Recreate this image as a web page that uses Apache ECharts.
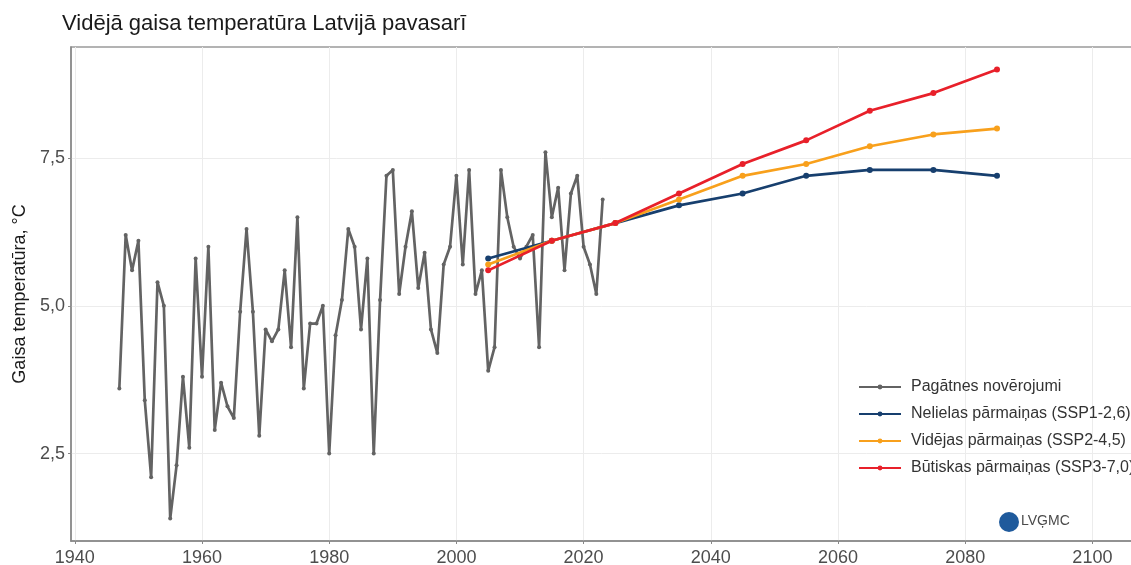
<!DOCTYPE html>
<html>
<head>
<meta charset="utf-8">
<script src="https://cdn.jsdelivr.net/npm/echarts@6/dist/echarts.min.js"></script>
<style>
  html, body { margin: 0; padding: 0; background: #fff; }
  #chart { width: 1131px; height: 565px; }
</style>
</head>
<body>
<div id="chart"></div>
<script>
// novērojumi 1947-2023
var obsYears = [];
for (var y = 1947; y <= 2023; y++) obsYears.push(y);
var obsValues = [
  3.6, 6.2, 5.6, 6.1, 3.4, 2.1, 5.4, 5.0, 1.4, 2.3,
  3.8, 2.6, 5.8, 3.8, 6.0, 2.9, 3.7, 3.3, 3.1, 4.9,
  6.3, 4.9, 2.8, 4.6, 4.4, 4.6, 5.6, 4.3, 6.5, 3.6,
  4.7, 4.7, 5.0, 2.5, 4.5, 5.1, 6.3, 6.0, 4.6, 5.8,
  2.5, 5.1, 7.2, 7.3, 5.2, 6.0, 6.6, 5.3, 5.9, 4.6,
  4.2, 5.7, 6.0, 7.2, 5.7, 7.3, 5.2, 5.6, 3.9, 4.3,
  7.3, 6.5, 6.0, 5.8, 6.0, 6.2, 4.3, 7.6, 6.5, 7.0,
  5.6, 6.9, 7.2, 6.0, 5.7, 5.2, 6.8
];

// scenāriji
var projYears = [2005, 2015, 2025, 2035, 2045, 2055, 2065, 2075, 2085];
var ssp126 = [5.8, 6.1, 6.4, 6.7, 6.9, 7.2, 7.3, 7.3, 7.2];
var ssp245 = [5.7, 6.1, 6.4, 6.8, 7.2, 7.4, 7.7, 7.9, 8.0];
var ssp370 = [5.6, 6.1, 6.4, 6.9, 7.4, 7.8, 8.3, 8.6, 9.0];

var seriesNames = [
  'Pagātnes novērojumi',
  'Nelielas pārmaiņas (SSP1-2,6)',
  'Vidējas pārmaiņas (SSP2-4,5)',
  'Būtiskas pārmaiņas (SSP3-7,0)'
];
var colors = ['#636363', '#173f6e', '#f8a01c', '#e8202a'];

var xTicks = [1940, 1960, 1980, 2000, 2020, 2040, 2060, 2080, 2100];
var yTicks = [2.5, 5.0, 7.5];

function pairs(xs, vs) {
  return xs.map(function (x, i) { return [x, vs[i]]; });
}

function lineSeries(i, data) {
  return {
    name: seriesNames[i],
    type: 'line',
    data: data,
    symbol: 'circle',
    symbolSize: i === 0 ? 4 : 6,
    showSymbol: true,
    lineStyle: { width: 2.7, color: colors[i] },
    itemStyle: { color: colors[i] },
    z: 2 + i,
    animation: false
  };
}

var myChart = echarts.init(document.getElementById('chart'));
var option = {
  backgroundColor: '#fff',
  title: {
    text: 'Vidējā gaisa temperatūra Latvijā pavasarī',
    left: 57,
    top: 8,
    textStyle: { fontFamily: 'Liberation Sans', fontSize: 22, fontWeight: 'normal', color: '#1a1a1a' }
  },
  legend: {
    orient: 'vertical',
    left: 853,
    top: 374,
    itemWidth: 42,
    itemHeight: 6,
    itemGap: 11,
    data: seriesNames,
    textStyle: { fontFamily: 'Liberation Sans', fontSize: 16, lineHeight: 16, color: '#333', padding: [0, 0, 0, 5] }
  },
  grid: {
    left: 71,
    right: -4,
    top: 47,
    bottom: 24,
    show: true,
    borderColor: '#9a9a9a',
    borderWidth: 1.5,
    containLabel: false,
    outerBoundsMode: 'none'
  },
  xAxis: {
    type: 'value',
    min: 1939.4,
    max: 2106.7,
    axisLine: { show: true, onZero: false, lineStyle: { color: '#888', width: 1.5 } },
    axisTick: { show: true, length: 3, customValues: xTicks, lineStyle: { color: '#888' } },
    axisLabel: {
      customValues: xTicks,
      margin: 8,
      fontFamily: 'Liberation Sans',
      fontSize: 18,
      color: '#4d4d4d',
      formatter: function (v) { return String(v); }
    },
    splitLine: { show: true, lineStyle: { color: '#ececec', width: 1 } }
  },
  yAxis: {
    type: 'value',
    min: 1.02,
    max: 9.38,
    name: 'Gaisa temperatūra, °C',
    nameLocation: 'middle',
    nameGap: 37,
    nameTextStyle: { fontFamily: 'Liberation Sans', fontSize: 18, color: '#1a1a1a' },
    axisLine: { show: true, lineStyle: { color: '#888', width: 1.5 } },
    axisTick: { show: true, length: 3, customValues: yTicks, lineStyle: { color: '#888' } },
    axisLabel: {
      customValues: yTicks,
      margin: 6,
      fontFamily: 'Liberation Sans',
      fontSize: 18,
      color: '#4d4d4d',
      formatter: function (v) { return v.toFixed(1).replace('.', ','); }
    },
    splitLine: { show: true, lineStyle: { color: '#ececec', width: 1 } }
  },
  graphic: [
    { type: 'circle', shape: { cx: 1009, cy: 522, r: 10 }, style: { fill: '#1f5a9c' } },
    { type: 'text', left: 1021, top: 514,
      style: { text: 'LVĢMC', fontFamily: 'Liberation Sans', fontSize: 14, fill: '#4a4a4a' } }
  ],
  series: [
    lineSeries(0, pairs(obsYears, obsValues)),
    lineSeries(1, pairs(projYears, ssp126)),
    lineSeries(2, pairs(projYears, ssp245)),
    lineSeries(3, pairs(projYears, ssp370))
  ]
};
myChart.setOption(option);
</script>
</body>
</html>
